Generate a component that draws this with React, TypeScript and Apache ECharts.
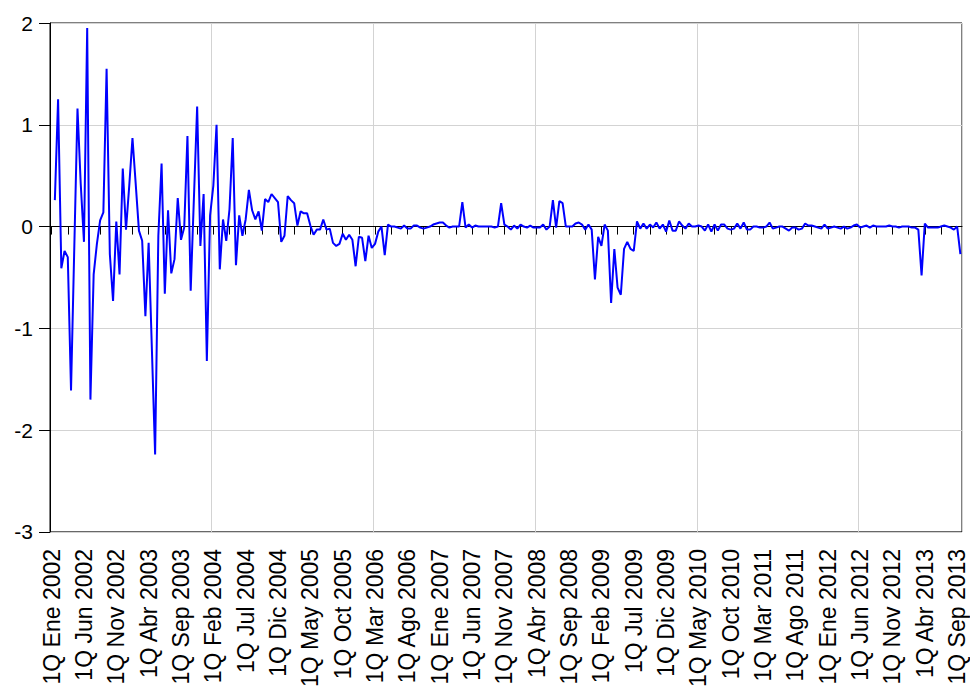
import React, { useEffect, useRef } from "react";
import * as echarts from "echarts";

const monthNames = ["Ene", "Feb", "Mar", "Abr", "May", "Jun", "Jul", "Ago", "Sep", "Oct", "Nov", "Dic"];
const startYear = 2002;
const periodCount = 282;

const categories: string[] = [];
for (let k = 0; k < periodCount; k++) {
  const m = Math.floor(k / 2);
  categories.push((k % 2 === 0 ? "1Q " : "2Q ") + monthNames[m % 12] + " " + (startYear + Math.floor(m / 12)));
}

const seriesValues: (number | null)[] = [
  null, 0.26, 1.25, -0.41, -0.24, -0.30, -1.61, -0.22, 1.16, 0.42,
  -0.15, 1.95, -1.70, -0.47, -0.17, 0.06, 0.14, 1.55, -0.27, -0.73,
  0.05, -0.47, 0.57, -0.03, 0.40, 0.87, 0.42, -0.04, -0.14, -0.88,
  -0.16, -1.20, -2.24, -0.09, 0.62, -0.66, 0.16, -0.46, -0.32, 0.28,
  -0.13, -0.01, 0.89, -0.63, 0.28, 1.18, -0.19, 0.32, -1.32, 0.11,
  0.40, 1.00, -0.42, 0.07, -0.14, 0.17, 0.87, -0.38, 0.11, -0.09,
  0.07, 0.36, 0.16, 0.07, 0.15, -0.04, 0.27, 0.24, 0.32, 0.28,
  0.24, -0.15, -0.09, 0.30, 0.26, 0.23, 0.01, 0.15, 0.13, 0.13,
  0.01, -0.08, -0.03, -0.03, 0.07, -0.03, -0.02, -0.16, -0.19, -0.17,
  -0.07, -0.13, -0.08, -0.13, -0.39, -0.10, -0.11, -0.34, -0.09, -0.21,
  -0.17, -0.05, 0.00, -0.28, 0.02, 0.00, 0.00, -0.01, -0.02, 0.01,
  -0.02, -0.02, 0.01, 0.01, -0.01, -0.02, -0.01, 0.00, 0.02, 0.03,
  0.04, 0.04, 0.01, -0.01, 0.00, 0.00, 0.00, 0.24, -0.01, 0.02,
  -0.01, 0.01, 0.00, 0.00, 0.00, 0.00, 0.00, -0.01, 0.00, 0.23,
  0.02, 0.00, -0.03, 0.01, -0.02, 0.02, 0.00, -0.01, 0.01, -0.01,
  -0.01, -0.01, 0.02, -0.03, 0.00, 0.26, -0.01, 0.25, 0.23, 0.00,
  0.00, 0.00, 0.03, 0.04, 0.02, -0.03, 0.02, -0.03, -0.52, -0.10,
  -0.19, 0.02, -0.04, -0.75, -0.22, -0.60, -0.67, -0.22, -0.15, -0.22,
  -0.24, 0.05, -0.02, 0.03, -0.02, 0.02, -0.01, 0.04, -0.02, 0.02,
  -0.05, 0.06, -0.04, -0.04, 0.05, 0.01, -0.02, 0.03, 0.00, 0.00,
  0.01, 0.00, -0.04, 0.02, -0.05, 0.02, -0.04, 0.02, 0.02, -0.02,
  -0.03, -0.02, 0.03, -0.02, 0.04, -0.03, -0.03, 0.00, 0.00, -0.01,
  -0.01, 0.00, 0.04, -0.02, -0.01, 0.00, 0.00, -0.02, -0.04, -0.01,
  -0.01, -0.03, -0.02, 0.03, 0.01, 0.01, 0.00, -0.01, -0.02, 0.02,
  -0.02, -0.01, 0.00, -0.01, -0.02, 0.00, -0.02, -0.01, 0.01, 0.02,
  -0.01, 0.00, 0.01, -0.01, 0.01, 0.00, 0.00, 0.00, 0.00, 0.01,
  0.00, 0.00, -0.01, 0.00, 0.00, 0.00, -0.01, -0.01, -0.03, -0.48,
  0.03, -0.01, -0.01, -0.01, -0.01, 0.00, 0.01, 0.00, -0.01, -0.03,
  0.00, -0.27,
];

const yMin = -3;
const yMax = 2;
const yStep = 1;

export default function App() {
  const ref = useRef<HTMLDivElement>(null);
  useEffect(() => {
    document.body.style.margin = "0";
    document.body.style.overflow = "hidden";
    document.documentElement.style.overflow = "hidden";
    window.scrollTo(0, 0);
    if (!ref.current) return;
    const chart = echarts.init(ref.current, null, { renderer: "svg" });
    const font = "'Liberation Sans', Arial, sans-serif";
    chart.setOption({
      animation: false,
      backgroundColor: "#ffffff",
      grid: {
        left: 50,
        right: 8,
        top: 23,
        bottom: 155,
        show: true,
        borderColor: "#000000",
        borderWidth: 1,
        backgroundColor: "transparent",
      },
      xAxis: {
        type: "category",
        data: categories,
        boundaryGap: true,
        axisLine: { show: true, lineStyle: { color: "#000000", width: 1 } },
        axisTick: { show: true, interval: 4, alignWithLabel: true, length: 8, inside: false, lineStyle: { color: "#000000" } },
        axisLabel: {
          show: true,
          interval: 9,
          rotate: 90,
          margin: 17,
          fontSize: 23,
          fontFamily: font,
          color: "#000000",
        },
        splitLine: { show: true, interval: 49, lineStyle: { color: "#d3d3d3", width: 1 } },
      },
      yAxis: {
        type: "value",
        min: yMin,
        max: yMax,
        interval: yStep,
        axisLine: { show: true, lineStyle: { color: "#000000", width: 1 } },
        axisTick: { show: true, length: 11, lineStyle: { color: "#000000" } },
        axisLabel: { fontSize: 21, fontFamily: font, color: "#000000", margin: 17 },
        splitLine: { show: true, lineStyle: { color: "#d3d3d3", width: 1 } },
      },
      series: [
        {
          type: "line",
          data: seriesValues,
          symbol: "none",
          connectNulls: false,
          lineStyle: { color: "#0000ff", width: 2 },
          itemStyle: { color: "#0000ff" },
        },
      ],
    });
    return () => chart.dispose();
  }, []);
  return (
    <div
      ref={ref}
      style={{ position: "fixed", left: 0, top: 0, width: 970, height: 690, overflow: "hidden" }}
    />
  );
}
